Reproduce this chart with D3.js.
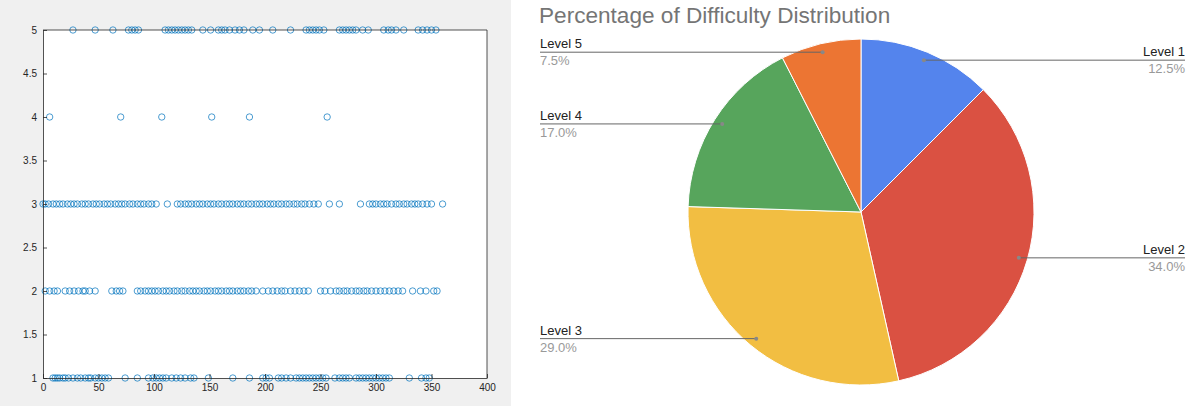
<!DOCTYPE html>
<html>
<head>
<meta charset="utf-8">
<script src="https://cdn.jsdelivr.net/npm/d3@7"></script>
<style>
  body { margin: 0; background: #fff; }
  svg { display: block; }
</style>
</head>
<body>
<svg id="chart" width="1195" height="406"></svg>
<script>
// scatter data: x positions of the points in each difficulty row
var level5X = [27, 47, 63, 77, 80, 83, 86, 110, 113, 116, 119, 122, 125, 128, 131, 134, 144, 151, 158, 161, 164, 168, 173, 177, 181, 189, 195, 207, 223, 237, 240, 243, 246, 249, 253, 267, 270, 273, 276, 279, 282, 288, 293, 307, 311, 314, 318, 325, 338, 342, 346, 350, 354];
var level4X = [6, 70, 107, 152, 186, 256];
var level3X = [0, 2, 5, 9, 12, 15, 18, 22, 25, 28, 31, 35, 38, 41, 45, 48, 51, 55, 58, 61, 65, 68, 71, 74, 78, 81, 85, 88, 91, 95, 98, 102, 112, 121, 124, 128, 131, 134, 138, 141, 144, 148, 151, 154, 158, 161, 165, 168, 171, 175, 178, 181, 185, 188, 192, 195, 198, 202, 205, 208, 212, 215, 219, 222, 226, 229, 233, 236, 240, 244, 248, 258, 267, 286, 294, 297, 300, 304, 307, 310, 314, 318, 321, 325, 328, 332, 335, 338, 342, 346, 350, 360];
var level2X = [2, 6, 10, 13, 20, 24, 28, 32, 36, 38, 42, 47, 62, 66, 69, 72, 85, 88, 92, 95, 98, 101, 104, 108, 111, 114, 118, 121, 125, 128, 132, 135, 138, 141, 145, 148, 151, 155, 158, 161, 165, 168, 171, 175, 178, 181, 185, 188, 192, 198, 203, 207, 211, 215, 218, 223, 227, 231, 235, 239, 250, 254, 259, 264, 267, 271, 274, 278, 282, 285, 289, 292, 296, 300, 304, 308, 312, 316, 320, 324, 333, 340, 345, 352, 355];
var level1X = [9, 11, 13, 15, 18, 20, 23, 27, 31, 34, 38, 41, 43, 47, 50, 53, 56, 59, 74, 85, 95, 99, 102, 105, 108, 111, 116, 120, 124, 128, 133, 136, 149, 171, 186, 198, 201, 204, 212, 215, 219, 223, 228, 231, 234, 237, 240, 243, 246, 249, 252, 255, 263, 267, 270, 273, 276, 282, 285, 288, 291, 294, 297, 300, 303, 306, 309, 312, 330, 341, 345, 348];

var xTicks = [0, 50, 100, 150, 200, 250, 300, 350, 400];
var yTicks = [1, 1.5, 2, 2.5, 3, 3.5, 4, 4.5, 5];

// pie data
var pieLabels = ["Level 1", "Level 2", "Level 3", "Level 4", "Level 5"];
var pieValues = [12.5, 34.0, 29.0, 17.0, 7.5];
var pieColors = ["#5484ed", "#da5142", "#f2be42", "#57a55c", "#ec7533"];
var pieTitle = "Percentage of Difficulty Distribution";

var svg = d3.select("#chart");
var font = "Liberation Sans, Arial, Helvetica, sans-serif";

// ---------- left: scatter ----------
svg.append("rect")
    .attr("x", 0).attr("y", 0)
    .attr("width", 511).attr("height", 406)
    .attr("fill", "#f0f0f0");

var plotLeft = 43, plotRight = 487, plotTop = 30, plotBottom = 378;

var x = d3.scaleLinear().domain([0, 400]).range([plotLeft, plotRight]);
var y = d3.scaleLinear().domain([1, 5]).range([plotBottom, plotTop]);

svg.append("rect")
    .attr("x", plotLeft).attr("y", plotTop)
    .attr("width", plotRight - plotLeft).attr("height", plotBottom - plotTop)
    .attr("fill", "#fff");

var points = [];
[[1, level1X], [2, level2X], [3, level3X], [4, level4X], [5, level5X]].forEach(function(r) {
    r[1].forEach(function(v) { points.push({x: v, y: r[0]}); });
});

svg.append("g")
    .selectAll("circle")
    .data(points)
    .enter()
    .append("circle")
    .attr("cx", function(d) { return x(d.x); })
    .attr("cy", function(d) { return y(d.y); })
    .attr("r", 3.2)
    .attr("fill", "none")
    .attr("stroke", "#0072bd")
    .attr("stroke-width", 0.7);

var axisColor = "#262626";

var xAxis = svg.append("g")
    .attr("transform", "translate(0," + plotBottom + ")")
    .call(d3.axisBottom(x).tickValues(xTicks).tickFormat(function(d) { return d; })
        .tickSizeInner(-4).tickSizeOuter(0).tickPadding(6));
var yAxis = svg.append("g")
    .attr("transform", "translate(" + plotLeft + ",0)")
    .call(d3.axisLeft(y).tickValues(yTicks).tickFormat(function(d) { return d; })
        .tickSizeInner(-4).tickSizeOuter(0).tickPadding(6));

[xAxis, yAxis].forEach(function(a) {
    a.select(".domain").attr("stroke", axisColor).attr("stroke-width", 0.8);
    a.selectAll(".tick line").attr("stroke", axisColor).attr("stroke-width", 0.8);
    a.selectAll(".tick text")
        .attr("fill", axisColor)
        .attr("font-family", font)
        .attr("font-size", 10);
});

// top and right edges of the box
svg.append("line")
    .attr("x1", plotLeft).attr("x2", plotRight)
    .attr("y1", plotTop).attr("y2", plotTop)
    .attr("stroke", axisColor).attr("stroke-width", 0.8);
svg.append("line")
    .attr("x1", plotRight).attr("x2", plotRight)
    .attr("y1", plotTop).attr("y2", plotBottom)
    .attr("stroke", axisColor).attr("stroke-width", 0.8);

// ---------- right: pie ----------
svg.append("text")
    .text(pieTitle)
    .attr("x", 539)
    .attr("y", 23)
    .attr("font-family", font)
    .attr("font-size", 22.6)
    .attr("fill", "#757575");

var cx = 861, cy = 212, radius = 173;
var pieData = pieLabels.map(function(l, i) {
    return {label: l, value: pieValues[i], color: pieColors[i]};
});
var pie = d3.pie().sort(null).value(function(d) { return d.value; });
var arc = d3.arc().innerRadius(0).outerRadius(radius);
var arcs = pie(pieData);

var pieG = svg.append("g").attr("transform", "translate(" + cx + "," + cy + ")");
pieG.selectAll("path")
    .data(arcs)
    .enter()
    .append("path")
    .attr("d", arc)
    .attr("fill", function(d) { return d.data.color; })
    .attr("stroke", "#fff")
    .attr("stroke-width", 1);

// leader lines and labels
var labelLeft = 540, labelRight = 1185;
arcs.forEach(function(a) {
    var mid = (a.startAngle + a.endAngle) / 2;
    var px = cx + Math.sin(mid) * radius * 0.95;
    var py = cy - Math.cos(mid) * radius * 0.95;
    var right = Math.sin(mid) > 0;
    var endX = right ? labelRight : labelLeft;

    svg.append("line")
        .attr("x1", px).attr("y1", py)
        .attr("x2", endX).attr("y2", py)
        .attr("stroke", "#666")
        .attr("stroke-width", 1);
    svg.append("circle")
        .attr("cx", px).attr("cy", py).attr("r", 2)
        .attr("fill", "#888");

    svg.append("text")
        .text(a.data.label)
        .attr("x", endX)
        .attr("y", py - 4)
        .attr("text-anchor", right ? "end" : "start")
        .attr("font-family", font)
        .attr("font-size", 13)
        .attr("fill", "#222");
    svg.append("text")
        .text(a.data.value.toFixed(1) + "%")
        .attr("x", endX)
        .attr("y", py + 13)
        .attr("text-anchor", right ? "end" : "start")
        .attr("font-family", font)
        .attr("font-size", 13)
        .attr("fill", "#999");
});
</script>
</body>
</html>
